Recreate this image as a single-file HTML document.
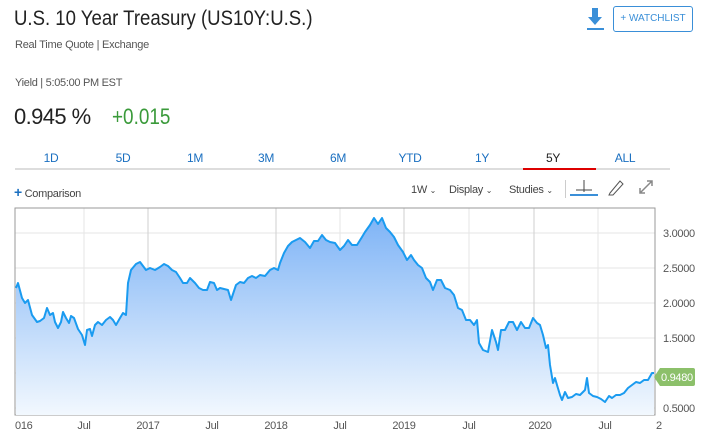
<!DOCTYPE html>
<html><head><style>
body{margin:0;width:710px;height:446px;background:#fff;font-family:"Liberation Sans",sans-serif;position:relative;overflow:hidden}
.a{position:absolute;white-space:nowrap}
.tab{position:absolute;top:151px;font-size:12px;color:#1a6fc0;width:60px;text-align:center;letter-spacing:-0.3px}
</style></head><body>
<div class="a" style="left:14px;top:7px;font-size:21px;color:#222;transform:scaleX(0.885);transform-origin:0 0">U.S. 10 Year Treasury (US10Y:U.S.)</div>
<div class="a" style="left:15px;top:39px;font-size:11px;color:#555;letter-spacing:-0.25px">Real Time Quote | Exchange</div>
<div class="a" style="left:15px;top:77px;font-size:11px;color:#555;letter-spacing:-0.3px">Yield | 5:05:00 PM EST</div>
<div class="a" style="left:14px;top:104px;font-size:22px;color:#222;letter-spacing:-0.6px">0.945 %</div>
<div class="a" style="left:112px;top:104px;font-size:22px;color:#3a9a3a;transform:scaleX(0.86);transform-origin:0 0">+0.015</div>
<svg class="a" style="left:586px;top:8px" width="20" height="24"><rect x="6" y="0" width="6" height="10" fill="#3a8fd8"/><polygon points="2,9 16,9 9,17" fill="#3a8fd8"/><rect x="1" y="20" width="17" height="2" fill="#3a8fd8"/></svg>
<div class="a" style="left:613px;top:6px;width:78px;height:24px;border:1px solid #3a8fd8;border-radius:3px;color:#3a8fd8;font-size:10px;line-height:24px;text-align:center">+ WATCHLIST</div>
<div class="tab" style="left:21px">1D</div><div class="tab" style="left:93px">5D</div><div class="tab" style="left:165px">1M</div><div class="tab" style="left:236px">3M</div><div class="tab" style="left:308px">6M</div><div class="tab" style="left:380px">YTD</div><div class="tab" style="left:452px">1Y</div><div class="tab" style="left:523px;color:#222">5Y</div><div class="tab" style="left:595px">ALL</div>
<div class="a" style="left:15px;top:168px;width:655px;height:2px;background:#ddd"></div>
<div class="a" style="left:523px;top:168px;width:73px;height:2px;background:#d00"></div>
<div class="a" style="left:14px;top:184px;font-size:11px;color:#444;letter-spacing:-0.3px"><span style="color:#1a6fc0;font-size:14px;font-weight:bold">+</span> Comparison</div>
<div class="a" style="left:411px;top:184px;font-size:11px;color:#444;letter-spacing:-0.3px">1W <span style="font-size:8px">⌄</span></div>
<div class="a" style="left:449px;top:184px;font-size:11px;color:#444;letter-spacing:-0.3px">Display <span style="font-size:8px">⌄</span></div>
<div class="a" style="left:509px;top:184px;font-size:11px;color:#444;letter-spacing:-0.3px">Studies <span style="font-size:8px">⌄</span></div>
<div class="a" style="left:565px;top:180px;width:1px;height:18px;background:#ccc"></div>
<svg class="a" style="left:570px;top:178px" width="90" height="20"><line x1="14" y1="2" x2="14" y2="14" stroke="#444"/><line x1="6" y1="12" x2="22" y2="12" stroke="#444"/><rect x="0" y="16" width="28" height="2" fill="#3a8fd8"/><path d="M40 15 L50 3 L53 6 L43 17 L39 17 Z" fill="none" stroke="#555"/><path d="M70 15 L82 3 M77 3 L82 3 L82 8 M70 10 L70 15 L75 15" stroke="#888" fill="none" stroke-width="1.5"/></svg>
<svg class="a" style="left:0;top:0" width="710" height="446">
<defs><linearGradient id="g" x1="0" y1="0" x2="0" y2="1"><stop offset="0" stop-color="#7fb4f6"/><stop offset="1" stop-color="#f2f8fe"/></linearGradient></defs>
<g stroke="#e6e6e6" stroke-width="1">
<line x1="15" y1="233" x2="655" y2="233"/><line x1="15" y1="268" x2="655" y2="268"/><line x1="15" y1="303" x2="655" y2="303"/><line x1="15" y1="338" x2="655" y2="338"/><line x1="15" y1="373" x2="655" y2="373"/><line x1="15" y1="408" x2="655" y2="408"/>
<line x1="84" y1="208" x2="84" y2="415"/><line x1="340" y1="208" x2="340" y2="415"/><line x1="469" y1="208" x2="469" y2="415"/><line x1="598" y1="208" x2="598" y2="415"/>
</g>
<g stroke="#cfcfcf"><line x1="148" y1="208" x2="148" y2="415"/><line x1="276" y1="208" x2="276" y2="415"/><line x1="404" y1="208" x2="404" y2="415"/><line x1="534" y1="208" x2="534" y2="415"/></g>
<rect x="15" y="208" width="640" height="207" fill="none" stroke="#999"/>
<polygon fill="url(#g)" points="16,415 16,288 18,283 22,298 25,303 28,300 32,315 37,322 40,321 44,318 47,308 50,315 53,313 55,322 58,328 61,322 63,312 66,318 69,323 71,316 74,318 78,329 82,335 85,345 87,330 90,329 92,336 95,325 98,322 102,325 106,320 110,317 113,320 116,325 120,318 123,313 126,315 128,283 131,270 136,264 140,262 143,266 146,270 150,268 155,270 160,267 164,264 168,266 172,270 176,272 180,278 183,283 187,283 190,278 195,283 199,288 203,290 207,290 210,282 214,283 217,290 220,288 224,289 228,290 231,300 236,285 240,282 244,283 248,278 252,276 256,278 260,275 265,276 270,270 274,268 278,270 280,263 284,253 288,246 292,242 296,240 300,238 305,242 310,248 314,241 318,241 322,235 326,240 330,242 335,243 340,250 344,246 348,240 352,245 357,245 362,237 365,232 370,225 374,218 378,224 382,218 386,228 390,232 394,237 398,245 403,252 407,260 411,255 414,260 418,265 422,268 426,278 430,282 433,290 437,280 441,280 445,288 450,290 454,295 458,308 462,310 466,320 470,320 474,325 477,320 479,343 483,350 488,352 492,330 496,342 498,350 501,330 505,330 509,322 513,322 517,330 521,322 525,328 529,328 533,318 537,323 540,325 543,335 546,348 548,345 550,365 553,383 555,378 557,385 560,395 562,400 565,392 568,398 572,397 576,394 580,395 585,390 587,378 589,393 593,396 597,397 601,399 605,402 609,396 612,398 616,395 620,395 624,393 628,388 632,385 636,382 640,383 644,380 648,380 652,373 654,373 654,415"/>
<polyline fill="none" stroke="#1a9bf0" stroke-width="2" stroke-linejoin="round" points="16,288 18,283 22,298 25,303 28,300 32,315 37,322 40,321 44,318 47,308 50,315 53,313 55,322 58,328 61,322 63,312 66,318 69,323 71,316 74,318 78,329 82,335 85,345 87,330 90,329 92,336 95,325 98,322 102,325 106,320 110,317 113,320 116,325 120,318 123,313 126,315 128,283 131,270 136,264 140,262 143,266 146,270 150,268 155,270 160,267 164,264 168,266 172,270 176,272 180,278 183,283 187,283 190,278 195,283 199,288 203,290 207,290 210,282 214,283 217,290 220,288 224,289 228,290 231,300 236,285 240,282 244,283 248,278 252,276 256,278 260,275 265,276 270,270 274,268 278,270 280,263 284,253 288,246 292,242 296,240 300,238 305,242 310,248 314,241 318,241 322,235 326,240 330,242 335,243 340,250 344,246 348,240 352,245 357,245 362,237 365,232 370,225 374,218 378,224 382,218 386,228 390,232 394,237 398,245 403,252 407,260 411,255 414,260 418,265 422,268 426,278 430,282 433,290 437,280 441,280 445,288 450,290 454,295 458,308 462,310 466,320 470,320 474,325 477,320 479,343 483,350 488,352 492,330 496,342 498,350 501,330 505,330 509,322 513,322 517,330 521,322 525,328 529,328 533,318 537,323 540,325 543,335 546,348 548,345 550,365 553,383 555,378 557,385 560,395 562,400 565,392 568,398 572,397 576,394 580,395 585,390 587,378 589,393 593,396 597,397 601,399 605,402 609,396 612,398 616,395 620,395 624,393 628,388 632,385 636,382 640,383 644,380 648,380 652,373 654,373"/>
<g font-size="11" fill="#555" font-family="Liberation Sans,sans-serif" letter-spacing="-0.3">
<text x="663" y="237">3.0000</text><text x="663" y="272">2.5000</text><text x="663" y="307">2.0000</text><text x="663" y="342">1.5000</text><text x="663" y="412">0.5000</text>
<text x="15" y="429">016</text><text x="84" y="429" text-anchor="middle">Jul</text><text x="148" y="429" text-anchor="middle">2017</text><text x="212" y="429" text-anchor="middle">Jul</text><text x="276" y="429" text-anchor="middle">2018</text><text x="340" y="429" text-anchor="middle">Jul</text><text x="404" y="429" text-anchor="middle">2019</text><text x="469" y="429" text-anchor="middle">Jul</text><text x="540" y="429" text-anchor="middle">2020</text><text x="605" y="429" text-anchor="middle">Jul</text><text x="656" y="429">2</text>
</g>
<path d="M654 377 L660 368 L693 368 Q695 368 695 370 L695 384 Q695 386 693 386 L660 386 Z" fill="#8cc06a"/>
<text x="661" y="381" font-size="11" fill="#fff" font-family="Liberation Sans,sans-serif" letter-spacing="-0.3">0.9480</text>
</svg>
</body></html>
